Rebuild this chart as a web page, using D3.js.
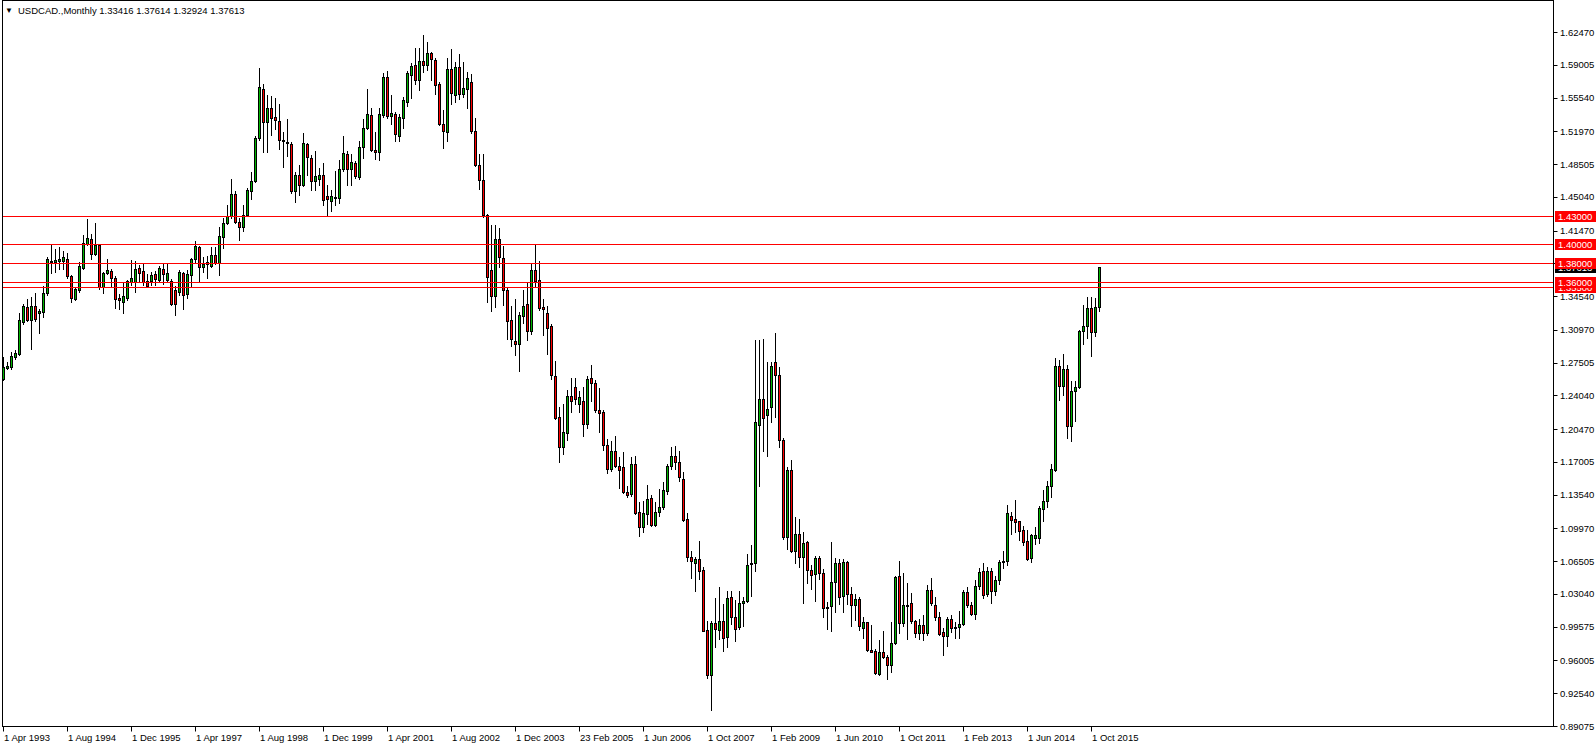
<!DOCTYPE html>
<html><head><meta charset="utf-8">
<script src="https://cdn.jsdelivr.net/npm/d3@7"></script>
<style>body{margin:0;background:#fff;} svg{display:block;} text{font-family:"Liberation Sans",Arial,sans-serif;}</style>
</head><body><svg id="c" width="1596" height="746"></svg>
<script>
// USDCAD monthly bars, Apr 1993 .. Dec 2015 (three bars in Feb 2005)
const openP = [
1.2582,1.2698,1.2705,1.2811,1.2840,1.3181,1.3340,1.3199,1.3347,1.3270,1.3287,1.3492,1.3816,1.3816,1.3823,1.3823,1.3851,1.3664,1.3425,1.3516,
1.3752,1.4010,1.4056,1.3897,1.3999,1.3552,1.3700,1.3717,1.3650,1.3435,1.3393,1.3439,1.3604,1.3604,1.3756,1.3717,1.3618,1.3618,1.3685,1.3622,
1.3738,1.3622,1.3611,1.3516,1.3499,1.3700,1.3480,1.3682,1.3844,1.3971,1.3759,1.3791,1.3773,1.3890,1.3802,1.4078,1.4226,1.4296,1.4537,1.4236,
1.4180,1.4307,1.4569,1.4668,1.5127,1.5647,1.5293,1.5438,1.5343,1.5311,1.5110,1.5085,1.5067,1.4562,1.4738,1.4632,1.5064,1.4915,1.4668,1.4696,
1.4738,1.4516,1.4456,1.4502,1.4491,1.4802,1.4961,1.4802,1.4862,1.4714,1.5032,1.5233,1.5364,1.5004,1.4975,1.5365,1.5773,1.5354,1.5379,1.5145,
1.5337,1.5507,1.5791,1.5901,1.5738,1.5944,1.5898,1.6022,1.5951,1.5692,1.5276,1.5188,1.5858,1.5578,1.5880,1.5589,1.5649,1.5720,1.5205,1.4840,
1.4687,1.4307,1.3725,1.3459,1.4059,1.3856,1.3519,1.3200,1.2976,1.2944,1.3246,1.3370,1.3086,1.3725,1.3626,1.3342,1.3271,1.3136,1.2614,1.2177,
1.1861,1.2003,1.2401,1.2497,1.2313,1.2349,1.2102,1.2588,1.2535,1.2253,1.2225,1.1883,1.1626,1.1820,1.1661,1.1651,1.1386,1.1362,1.1679,1.1168,
1.1009,1.1150,1.1319,1.1034,1.1168,1.1221,1.1397,1.1661,1.1767,1.1703,1.1520,1.1097,1.0699,1.0628,1.0674,1.0558,0.9923,0.9447,0.9994,0.9923,
1.0022,0.9853,1.0269,1.0064,0.9951,1.0209,1.0226,1.0621,1.0628,1.2091,1.2366,1.2197,1.2278,1.2761,1.2620,1.1936,1.0903,1.1615,1.0762,1.0938,
1.0692,1.0850,1.0558,1.0516,1.0685,1.0526,1.0163,1.0174,1.0427,1.0632,1.0279,1.0646,1.0304,1.0188,1.0251,0.9941,1.0011,0.9712,0.9705,0.9458,
0.9687,0.9641,0.9553,0.9786,1.0498,0.9994,1.0188,1.0209,1.0022,0.9892,0.9976,0.9886,1.0349,1.0191,1.0062,0.9904,0.9858,1.0037,0.9949,0.9956,
0.9981,1.0325,1.0191,1.0090,1.0388,1.0546,1.0300,1.0546,1.0332,1.0448,1.0641,1.0651,1.1132,1.1097,1.1072,1.0981,1.0865,1.0683,1.0893,1.0893,
1.1202,1.1283,1.1441,1.1616,1.2712,1.2501,1.2687,1.2080,1.2455,1.2494,1.3087,1.3133,1.3326,1.3070,1.33416];
const highP = [
1.2811,1.2758,1.2864,1.2882,1.3270,1.3375,1.3428,1.3446,1.3488,1.3322,1.3559,1.3869,1.3992,1.3957,1.3975,1.3932,1.3911,1.3675,1.3545,1.3816,
1.4105,1.4274,1.4116,1.4232,1.4010,1.3710,1.3851,1.3745,1.3664,1.3481,1.3604,1.3622,1.3834,1.3826,1.3788,1.3791,1.3685,1.3710,1.3721,1.3774,
1.3798,1.3798,1.3640,1.3559,1.3728,1.3710,1.3730,1.3858,1.4038,1.3985,1.3872,1.3879,1.3971,1.3978,1.4180,1.4279,1.4420,1.4696,1.4569,1.4279,
1.4420,1.4597,1.4767,1.5145,1.5863,1.5693,1.5580,1.5573,1.5551,1.5481,1.5191,1.5322,1.5085,1.4767,1.4844,1.5180,1.5074,1.4951,1.4986,1.4809,
1.4862,1.4632,1.4579,1.4781,1.4897,1.5152,1.4986,1.4958,1.4887,1.5092,1.5322,1.5640,1.5445,1.5190,1.5447,1.5809,1.5837,1.5585,1.5400,1.5383,
1.5560,1.5834,1.5915,1.6075,1.6075,1.6217,1.6146,1.6040,1.5969,1.5713,1.5418,1.5976,1.6064,1.5933,1.6011,1.5933,1.5827,1.5798,1.5337,1.4957,
1.4957,1.4318,1.4201,1.4201,1.4176,1.3988,1.3555,1.3349,1.3420,1.3288,1.3519,1.3590,1.3803,1.3998,1.3828,1.3420,1.3349,1.3164,1.2763,1.2284,
1.2312,1.2461,1.2585,1.2585,1.2454,1.2490,1.2613,1.2729,1.2567,1.2479,1.2250,1.1943,1.1926,1.1978,1.1756,1.1802,1.1450,1.1749,1.1767,1.1280,
1.1291,1.1457,1.1355,1.1273,1.1414,1.1492,1.1679,1.1855,1.1873,1.1820,1.1598,1.1161,1.0762,1.0699,1.0868,1.0586,1.0022,1.0022,1.0258,1.0382,
1.0198,1.0339,1.0332,1.0240,1.0332,1.0276,1.0727,1.0826,1.2990,1.2990,1.2995,1.2754,1.2754,1.3065,1.2708,1.1950,1.1644,1.1725,1.1122,1.1097,
1.0963,1.0868,1.0611,1.0709,1.0709,1.0568,1.0223,1.0850,1.0685,1.0674,1.0674,1.0657,1.0382,1.0304,1.0276,1.0064,1.0011,0.9976,0.9722,0.9821,
0.9916,0.9659,1.0011,1.0498,1.0657,1.0526,1.0420,1.0315,1.0029,1.0040,1.0079,1.0395,1.0476,1.0272,1.0114,0.9949,1.0062,1.0086,1.0009,1.0125,
1.0342,1.0377,1.0219,1.0448,1.0577,1.0634,1.0588,1.0577,1.0490,1.0658,1.0763,1.1244,1.1167,1.1297,1.1079,1.1027,1.0981,1.0939,1.1009,1.1237,
1.1406,1.1494,1.1683,1.2799,1.2782,1.2841,1.2729,1.2554,1.2554,1.3098,1.3361,1.3449,1.3449,1.3438,1.37614];
const lowP = [
1.2565,1.2688,1.2688,1.2794,1.2829,1.3164,1.3192,1.2899,1.3192,1.3069,1.3234,1.3463,1.3693,1.3710,1.3745,1.3745,1.3650,1.3393,1.3418,1.3499,
1.3745,1.3992,1.3851,1.3886,1.3534,1.3488,1.3685,1.3552,1.3329,1.3322,1.3270,1.3418,1.3569,1.3499,1.3604,1.3569,1.3559,1.3569,1.3569,1.3604,
1.3587,1.3604,1.3358,1.3252,1.3463,1.3322,1.3430,1.3559,1.3819,1.3607,1.3706,1.3650,1.3759,1.3791,1.3678,1.3961,1.4215,1.4279,1.4226,1.4046,
1.4138,1.4300,1.4484,1.4661,1.5102,1.4979,1.4975,1.5156,1.5216,1.5011,1.4816,1.4933,1.4544,1.4445,1.4526,1.4615,1.4738,1.4579,1.4579,1.4632,
1.4420,1.4307,1.4350,1.4420,1.4438,1.4774,1.4625,1.4625,1.4703,1.4696,1.4915,1.5216,1.4986,1.4904,1.4897,1.5347,1.5340,1.5269,1.5099,1.5092,
1.5230,1.5464,1.5553,1.5702,1.5631,1.5827,1.5844,1.5738,1.5596,1.5259,1.5021,1.5099,1.5489,1.5507,1.5543,1.5560,1.5447,1.5177,1.4833,1.4584,
1.4289,1.3395,1.3299,1.3334,1.3757,1.3359,1.3005,1.2923,1.2827,1.2667,1.3171,1.2994,1.3058,1.3547,1.3306,1.3040,1.2845,1.2578,1.2152,1.1701,
1.1787,1.1936,1.2225,1.2313,1.2225,1.1971,1.2059,1.2349,1.2225,1.2014,1.1827,1.1580,1.1608,1.1643,1.1421,1.1369,1.1330,1.1344,1.1150,1.0921,
1.0956,1.1044,1.1027,1.1027,1.1132,1.1203,1.1362,1.1626,1.1626,1.1495,1.1080,1.0657,1.0470,1.0332,1.0463,0.9909,0.9412,0.9077,0.9747,0.9828,
0.9705,0.9740,0.9987,0.9811,0.9934,0.9969,1.0216,1.0286,1.0551,1.1450,1.1813,1.1760,1.2119,1.2179,1.1855,1.0886,1.0780,1.0745,1.0632,1.0586,
1.0205,1.0417,1.0357,1.0226,1.0463,1.0057,0.9934,0.9910,1.0110,1.0200,1.0110,1.0198,0.9969,1.0029,0.9923,0.9835,0.9705,0.9687,0.9458,0.9447,
0.9624,0.9405,0.9483,0.9775,0.9888,0.9969,0.9825,0.9994,0.9846,0.9828,0.9816,0.9868,1.0184,1.0026,0.9868,0.9658,0.9753,0.9904,0.9840,0.9833,
0.9974,1.0167,1.0079,1.0037,1.0360,1.0262,1.0279,1.0209,1.0290,1.0413,1.0577,1.0613,1.0939,1.0964,1.0876,1.0823,1.0658,1.0641,1.0834,1.0844,
1.1079,1.1220,1.1325,1.1606,1.2353,1.2413,1.1950,1.1922,1.2132,1.2483,1.2950,1.3010,1.2824,1.3034,1.32924];
const closeP = [
1.2705,1.2713,1.2825,1.2857,1.3199,1.3347,1.3206,1.3354,1.3210,1.3294,1.3492,1.3844,1.3830,1.3834,1.3844,1.3865,1.3668,1.3435,1.3534,1.3770,
1.4020,1.4073,1.3904,1.3996,1.3552,1.3693,1.3728,1.3647,1.3428,1.3418,1.3453,1.3611,1.3647,1.3745,1.3693,1.3604,1.3566,1.3682,1.3640,1.3749,
1.3685,1.3693,1.3368,1.3375,1.3710,1.3470,1.3687,1.3848,1.3985,1.3766,1.3795,1.3816,1.3890,1.3802,1.4092,1.4226,1.4296,1.4537,1.4236,1.4180,
1.4307,1.4579,1.4671,1.5127,1.5668,1.5293,1.5438,1.5339,1.5315,1.5103,1.5099,1.5071,1.4562,1.4738,1.4632,1.5074,1.4922,1.4668,1.4728,1.4738,
1.4466,1.4480,1.4516,1.4487,1.4802,1.4968,1.4802,1.4873,1.4721,1.5032,1.5233,1.5375,1.5004,1.4975,1.5383,1.5773,1.5354,1.5390,1.5163,1.5347,
1.5525,1.5809,1.5890,1.5738,1.5944,1.5901,1.6022,1.5961,1.5685,1.5276,1.5195,1.5858,1.5599,1.5880,1.5589,1.5656,1.5756,1.5205,1.4840,1.4683,
1.4307,1.3661,1.3459,1.4059,1.3863,1.3519,1.3192,1.3005,1.2944,1.3253,1.3349,1.3086,1.3732,1.3618,1.3331,1.3313,1.3118,1.2621,1.2170,1.1861,
1.2017,1.2401,1.2341,1.2366,1.2391,1.2102,1.2578,1.2532,1.2250,1.2215,1.1883,1.1626,1.1820,1.1654,1.1619,1.1379,1.1351,1.1679,1.1161,1.1009,
1.1157,1.1309,1.1034,1.1168,1.1228,1.1404,1.1661,1.1767,1.1696,1.1538,1.1090,1.0692,1.0650,1.0674,1.0551,0.9916,0.9447,0.9994,0.9934,1.0022,
0.9839,1.0258,1.0057,0.9934,1.0209,1.0233,1.0611,1.0632,1.2127,1.2366,1.2162,1.2261,1.2719,1.2620,1.1933,1.0903,1.1615,1.0762,1.0938,1.0692,
1.0843,1.0558,1.0505,1.0685,1.0526,1.0156,1.0153,1.0427,1.0628,1.0276,1.0646,1.0304,1.0188,1.0251,0.9969,1.0011,0.9715,0.9694,0.9465,0.9694,
0.9634,0.9553,0.9786,1.0480,0.9994,1.0188,1.0181,1.0022,0.9892,0.9976,0.9893,1.0349,1.0209,1.0062,0.9879,0.9858,1.0037,0.9949,0.9956,0.9991,
1.0325,1.0184,1.0090,1.0388,1.0535,1.0297,1.0546,1.0332,1.0448,1.0641,1.0651,1.1157,1.1090,1.1069,1.0974,1.0858,1.0676,1.0928,1.0932,1.1213,
1.1283,1.1441,1.1630,1.2719,1.2501,1.2687,1.2080,1.2455,1.2494,1.3087,1.3133,1.3326,1.3070,1.3343,1.37613];

const xTickBars = [0,16,32,48,64,80,96,112,128,144,160,176,192,208,224,240,256,272];
const xTickLabels = ["1 Apr 1993","1 Aug 1994","1 Dec 1995","1 Apr 1997","1 Aug 1998","1 Dec 1999","1 Apr 2001","1 Aug 2002","1 Dec 2003","23 Feb 2005","1 Jun 2006","1 Oct 2007","1 Feb 2009","1 Jun 2010","1 Oct 2011","1 Feb 2013","1 Jun 2014","1 Oct 2015"];
const yTickValues = [1.62470,1.59005,1.55540,1.51970,1.48505,1.45040,1.41470,1.38005,1.34540,1.30970,1.27505,1.24040,1.20470,1.17005,1.13540,1.09970,1.06505,1.03040,0.99575,0.96005,0.92540,0.89075];
const levelValues = [1.43000,1.40000,1.38000,1.36000,1.35500];
const lastBid = 1.37613;
const titleText = "USDCAD.,Monthly  1.33416 1.37614 1.32924 1.37613";

const svg = d3.select("#c");
const n = openP.length;
const bullColor = "#00b400", bearColor = "#ff0000";
const plotL = 2.5, plotR = 1553.5, plotT = 0.5, plotB = 726.5;

const x = d3.scaleLinear().domain([0, n - 1]).range([3.5, 3.5 + 4 * (n - 1)]);
const y = d3.scaleLinear().domain([0.89075, 1.62470]).range([726, 32]);
const crisp = v => Math.round(v) + 0.5;

const data = d3.range(n).map(i => ({i, o: openP[i], h: highP[i], l: lowP[i], c: closeP[i]}));

const gC = svg.append("g");
gC.selectAll("line.w").data(data).join("line")
  .attr("x1", d => x(d.i)).attr("x2", d => x(d.i))
  .attr("y1", d => Math.round(y(d.h))).attr("y2", d => Math.round(y(d.l)) + 1)
  .attr("stroke", "#000").attr("stroke-width", 1);
gC.selectAll("rect.b").data(data).join("rect")
  .attr("x", d => x(d.i) - 1).attr("width", 2)
  .attr("y", d => crisp(y(Math.max(d.o, d.c))))
  .attr("height", d => Math.max(0, crisp(y(Math.min(d.o, d.c))) - crisp(y(Math.max(d.o, d.c)))))
  .attr("fill", d => d.c >= d.o ? bullColor : bearColor)
  .attr("stroke", "#000").attr("stroke-width", 1);

// horizontal levels
svg.append("g").selectAll("line").data(levelValues).join("line")
  .attr("x1", plotL).attr("x2", plotR)
  .attr("y1", d => crisp(y(d))).attr("y2", d => crisp(y(d)))
  .attr("stroke", "#ff0000").attr("stroke-width", 1);

// frame
svg.append("rect").attr("x", plotL).attr("y", plotT).attr("width", plotR - plotL).attr("height", plotB - plotT)
  .attr("fill", "none").attr("stroke", "#000").attr("stroke-width", 1);

// right axis ticks
const gY = svg.append("g");
gY.selectAll("line").data(yTickValues).join("line")
  .attr("x1", plotR).attr("x2", plotR + 4)
  .attr("y1", d => crisp(y(d))).attr("y2", d => crisp(y(d))).attr("stroke", "#000");
gY.selectAll("text").data(yTickValues).join("text")
  .attr("x", 1560).attr("y", d => y(d) + 3.5)
  .attr("font-size", "9.5px").attr("fill", "#000")
  .text(d => d.toFixed(5));

// bottom axis
const gX = svg.append("g");
gX.selectAll("line").data(xTickBars).join("line")
  .attr("x1", d => x(d)).attr("x2", d => x(d))
  .attr("y1", plotB).attr("y2", plotB + 5).attr("stroke", "#000");
gX.selectAll("text").data(xTickBars).join("text")
  .attr("x", d => x(d) + 0.5).attr("y", 741)
  .attr("font-size", "9.5px").attr("fill", "#000")
  .text((d, k) => xTickLabels[k]);

// price labels
function priceBox(v, bg) {
  const g = svg.append("g");
  const yc = crisp(y(v));
  g.append("rect").attr("x", 1555).attr("y", yc - 5.5).attr("width", 41).attr("height", 11).attr("fill", bg);
  g.append("text").attr("x", 1558).attr("y", yc + 3.5).attr("font-size", "9.5px").attr("fill", "#fff").text(v.toFixed(5));
}
priceBox(lastBid, "#000");
[...levelValues].reverse().forEach(v => priceBox(v, "#ff0000"));

// title
svg.append("text").attr("x", 5).attr("y", 13).attr("font-size", "8px").attr("fill", "#000").text("\u25BC");
svg.append("text").attr("x", 18).attr("y", 14).attr("font-size", "9.5px").attr("fill", "#000").text(titleText);
</script></body></html>
